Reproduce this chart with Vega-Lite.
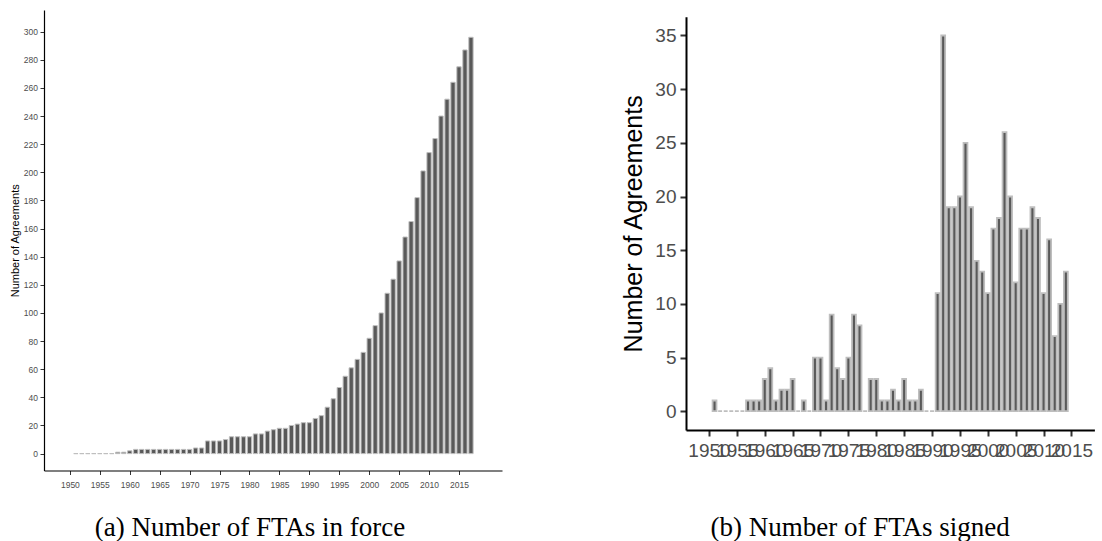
{
  "$schema": "https://vega.github.io/schema/vega-lite/v6.json",
  "background": "white",
  "padding": {"left": 9, "top": 10, "right": 0, "bottom": 0},
  "config": {
    "view": {"stroke": null},
    "font": "Liberation Sans",
    "axis": {"grid": false, "labelColor": "#4D4D4D", "titleColor": "black", "domainColor": "black", "tickColor": "#333333", "titleFontWeight": "normal", "labelFlush": false, "labelOverlap": false},
    "title": {"font": "Liberation Serif", "fontWeight": "normal", "color": "black", "orient": "bottom", "anchor": "middle"}
  },
  "datasets": {
    "inforce": [
      {"year": 1951, "n": 0}, {"year": 1952, "n": 0}, {"year": 1953, "n": 0}, {"year": 1954, "n": 0},
      {"year": 1955, "n": 0}, {"year": 1956, "n": 0}, {"year": 1957, "n": 0}, {"year": 1958, "n": 1},
      {"year": 1959, "n": 1}, {"year": 1960, "n": 2}, {"year": 1961, "n": 3}, {"year": 1962, "n": 3},
      {"year": 1963, "n": 3}, {"year": 1964, "n": 3}, {"year": 1965, "n": 3}, {"year": 1966, "n": 3},
      {"year": 1967, "n": 3}, {"year": 1968, "n": 3}, {"year": 1969, "n": 3}, {"year": 1970, "n": 3},
      {"year": 1971, "n": 4}, {"year": 1972, "n": 4}, {"year": 1973, "n": 9}, {"year": 1974, "n": 9},
      {"year": 1975, "n": 9}, {"year": 1976, "n": 10}, {"year": 1977, "n": 12}, {"year": 1978, "n": 12},
      {"year": 1979, "n": 12}, {"year": 1980, "n": 12}, {"year": 1981, "n": 14}, {"year": 1982, "n": 14},
      {"year": 1983, "n": 16}, {"year": 1984, "n": 17}, {"year": 1985, "n": 18}, {"year": 1986, "n": 18},
      {"year": 1987, "n": 20}, {"year": 1988, "n": 21}, {"year": 1989, "n": 22}, {"year": 1990, "n": 22},
      {"year": 1991, "n": 25}, {"year": 1992, "n": 27}, {"year": 1993, "n": 33}, {"year": 1994, "n": 39},
      {"year": 1995, "n": 47}, {"year": 1996, "n": 55}, {"year": 1997, "n": 61}, {"year": 1998, "n": 67},
      {"year": 1999, "n": 72}, {"year": 2000, "n": 82}, {"year": 2001, "n": 91}, {"year": 2002, "n": 100},
      {"year": 2003, "n": 114}, {"year": 2004, "n": 124}, {"year": 2005, "n": 137}, {"year": 2006, "n": 154},
      {"year": 2007, "n": 165}, {"year": 2008, "n": 182}, {"year": 2009, "n": 201}, {"year": 2010, "n": 214},
      {"year": 2011, "n": 224}, {"year": 2012, "n": 240}, {"year": 2013, "n": 252}, {"year": 2014, "n": 264},
      {"year": 2015, "n": 275}, {"year": 2016, "n": 287}, {"year": 2017, "n": 296}
    ],
    "signed": [
      {"year": 1951, "n": 1}, {"year": 1952, "n": 0}, {"year": 1953, "n": 0}, {"year": 1954, "n": 0},
      {"year": 1955, "n": 0}, {"year": 1956, "n": 0}, {"year": 1957, "n": 1}, {"year": 1958, "n": 1},
      {"year": 1959, "n": 1}, {"year": 1960, "n": 3}, {"year": 1961, "n": 4}, {"year": 1962, "n": 1},
      {"year": 1963, "n": 2}, {"year": 1964, "n": 2}, {"year": 1965, "n": 3}, {"year": 1966, "n": 0},
      {"year": 1967, "n": 1}, {"year": 1968, "n": 0}, {"year": 1969, "n": 5}, {"year": 1970, "n": 5},
      {"year": 1971, "n": 1}, {"year": 1972, "n": 9}, {"year": 1973, "n": 4}, {"year": 1974, "n": 3},
      {"year": 1975, "n": 5}, {"year": 1976, "n": 9}, {"year": 1977, "n": 8}, {"year": 1978, "n": 0},
      {"year": 1979, "n": 3}, {"year": 1980, "n": 3}, {"year": 1981, "n": 1}, {"year": 1982, "n": 1},
      {"year": 1983, "n": 2}, {"year": 1984, "n": 1}, {"year": 1985, "n": 3}, {"year": 1986, "n": 1},
      {"year": 1987, "n": 1}, {"year": 1988, "n": 2}, {"year": 1989, "n": 0}, {"year": 1990, "n": 0},
      {"year": 1991, "n": 11}, {"year": 1992, "n": 35}, {"year": 1993, "n": 19}, {"year": 1994, "n": 19},
      {"year": 1995, "n": 20}, {"year": 1996, "n": 25}, {"year": 1997, "n": 19}, {"year": 1998, "n": 14},
      {"year": 1999, "n": 13}, {"year": 2000, "n": 11}, {"year": 2001, "n": 17}, {"year": 2002, "n": 18},
      {"year": 2003, "n": 26}, {"year": 2004, "n": 20}, {"year": 2005, "n": 12}, {"year": 2006, "n": 17},
      {"year": 2007, "n": 17}, {"year": 2008, "n": 19}, {"year": 2009, "n": 18}, {"year": 2010, "n": 11},
      {"year": 2011, "n": 16}, {"year": 2012, "n": 7}, {"year": 2013, "n": 10}, {"year": 2014, "n": 13}
    ]
  },
  "spacing": 119,
  "hconcat": [
    {
      "data": {"name": "inforce"},
      "width": 458,
      "height": 460.5,
      "title": {"text": "(a) Number of FTAs in force", "fontSize": 27, "offset": 26, "dx": -23},
      "mark": {"type": "bar", "width": 4.3, "fill": "#595959", "stroke": "#BEBEBE", "strokeWidth": 1},
      "encoding": {
        "x": {
          "field": "year", "type": "quantitative",
          "scale": {"domain": [1946.51, 2021.35], "nice": false, "zero": false},
          "axis": {"values": [1950, 1955, 1960, 1965, 1970, 1975, 1980, 1985, 1990, 1995, 2000, 2005, 2010, 2015], "format": "d", "title": null, "labelFontSize": 8.5, "tickSize": 4, "labelPadding": 6, "domainWidth": 1.2, "tickWidth": 1}
        },
        "y": {
          "field": "n", "type": "quantitative",
          "scale": {"domain": [-12, 315.4], "nice": false, "zero": false},
          "axis": {"values": [0, 20, 40, 60, 80, 100, 120, 140, 160, 180, 200, 220, 240, 260, 280, 300], "title": "Number of Agreements", "titleFontSize": 11, "titlePadding": 3, "labelFontSize": 8.5, "tickSize": 4, "labelPadding": 2.5, "domainWidth": 1.2, "tickWidth": 1}
        }
      }
    },
    {
      "data": {"name": "signed"},
      "width": 408.4,
      "height": 420,
      "title": {"text": "(b) Number of FTAs signed", "fontSize": 27, "offset": 55, "dx": -30},
      "mark": {"type": "bar", "width": 3.9, "fill": "#595959", "stroke": "#BEBEBE", "strokeWidth": 1.8},
      "encoding": {
        "x": {
          "field": "year", "type": "quantitative",
          "scale": {"domain": [1946.78, 2018.22], "nice": false, "zero": false},
          "axis": {"values": [1950, 1955, 1960, 1965, 1970, 1975, 1980, 1985, 1990, 1995, 2000, 2005, 2010, 2015], "format": "d", "title": null, "labelFontSize": 19, "tickSize": 6, "labelPadding": 5, "domainWidth": 2, "tickWidth": 2}
        },
        "y": {
          "field": "n", "type": "quantitative",
          "scale": {"domain": [-1.75, 36.75], "range": [420, 6.7], "nice": false, "zero": false},
          "axis": {"values": [0, 5, 10, 15, 20, 25, 30, 35], "title": "Number of Agreements", "titleFontSize": 25, "titlePadding": 8, "labelFontSize": 19, "tickSize": 6, "labelPadding": 4, "domainWidth": 2, "tickWidth": 2}
        }
      }
    }
  ]
}
